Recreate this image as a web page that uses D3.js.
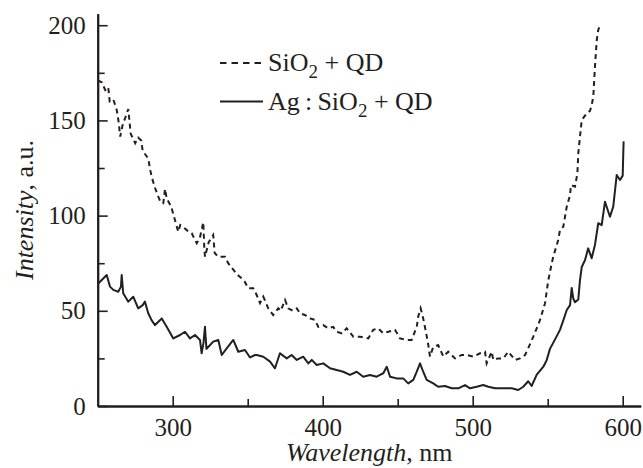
<!DOCTYPE html>
<html>
<head>
<meta charset="utf-8">
<script src="https://cdn.jsdelivr.net/npm/d3@7"></script>
<style>
  body { margin: 0; background: #fff; }
  text { font-family: "Liberation Serif", "Times New Roman", serif; fill: #231f20; }
</style>
</head>
<body>
<div id="vis"></div>
<script>
// SiO2 + QD (dashed)
var sio2Wl = [250,252.7,255,257,258,260.4,262.7,264,265,267,268,270.4,271,272,275,277,279,280,283.7,285,286,288,290.4,292,293.7,294.9,296,299,301.5,303.7,305,307,310,312.7,316,318,320.4,321,321.5,324,327,328,330.4,334.9,337,340,343,346,348,350.4,353.7,356,358.2,360.4,363.7,367,370.4,372,374.9,377,380,382.7,384.9,388.2,391.5,394.9,397,400.4,403.7,407,409.3,412.7,416,420.4,424.9,430.4,433.7,437,440.4,443.7,448.2,451.5,456,459.3,462.7,463.7,465.3,467,469,470.4,471.5,473.7,477,480.4,483.7,488.2,492.7,496,500.4,504.9,508.2,509.3,512.7,513.7,517,520.4,523.7,528.2,531.5,534.9,537,540.4,544.9,548.2,550.4,552.7,553.7,557,558.2,560.4,562.7,564.9,565.5,568.2,569.8,570.4,571.5,572.7,576,578.2,579.3,580.4,581.5,582.7,583.7,584.9];
var sio2Val = [171,170,166,167.5,160,161,155.5,149,141.5,149,150.5,156,151,143,138,141,139.5,134,130,124,120.4,115,110,107,106.5,114,109,104.7,97.7,91.5,95,94,92,90.7,85.5,88,96.5,84,78.4,86,89.8,80.3,78.4,78.4,75,72,69,67,65.3,61.8,61.8,58.3,54,57.4,51.3,47.8,51.3,50,55.7,51.3,50,51.3,48.7,47.8,46,45.2,41.6,42.5,40.8,41.6,39,38.2,40.8,36.4,36.4,35.5,40,40.8,38.2,39,40,35.5,34.7,34.7,41.6,47,51.3,46,38.2,32,26,31,32,26,28.5,25,26.8,26.8,25.9,27.7,28.5,22.4,28.5,24.2,25,25,28.5,24.2,25,26.8,30.3,36.4,45.2,54,66,75,78.4,87.2,92.4,94.2,104.7,110.8,116,115.2,122.2,132.7,141.4,150.2,153.7,155,158,162.5,178.2,192.2,197.5,200];

// Ag:SiO2 + QD (solid)
var agWl = [250,252.7,256,258.2,260.4,263.7,265.5,266,267,270.4,273.7,277,280,281.5,283.7,286,288.2,292.7,296,300.4,304.9,308.2,311.5,314.9,318.2,319.3,320.5,321.5,322.5,323.7,327,330.4,332.7,336,340.4,343.7,348.2,351.5,354.9,356,360.4,364.9,368.2,371.5,376,379.3,382.7,387,390.4,392.7,396,400.4,404.9,409.3,413.7,418.2,422.7,427,431.5,436,438.2,440.4,442.7,444.9,449.3,453.7,457,460.4,462.7,464.9,467,469.3,473.7,477,481.5,486,490.4,494.9,498.2,502.7,507,510.4,514.9,520.4,526,530.4,533.7,537,539.3,542.7,547,549.3,551.5,554.9,558.2,560.4,562.7,564.9,566,567,568.2,570.4,571.5,572.7,574.9,577,579.3,581.5,583.7,586,588.2,590.4,591.5,593.7,596,598.2,600,600.6];
var agVal = [64,66.2,68.8,62.7,61,60,62.7,68.8,59.2,54.8,57.4,51.3,53,54.8,48.7,45,42.5,46,41.6,35.5,37.3,39,35.5,37.3,34.7,27.7,33,41.6,30,31,33.8,34.7,26.8,30.3,34.7,28.5,29.4,25.5,26.8,26.8,25.9,23.3,19.8,27.7,25,26.8,24.2,25.9,22.4,24.2,21.5,22.4,19.8,18.9,18,16.3,18,15.4,16.3,15.4,16.3,17.2,20.6,15.4,14.5,14.5,11.9,13.7,18,22.4,18,13.7,11.9,10.1,10.5,9.3,9.3,11,9.3,10.1,11,10.1,9.3,9.3,9.3,8.4,10.1,13,10.5,16.5,20.5,24,30,35,40,45,50.4,53,62,56.6,54.5,56,66,73,76.7,82.8,77.6,84.6,96,95,107.3,102,99.4,104.7,121.3,118.7,121,139];

var xMajor = [300, 400, 500, 600];
var xMinor = [350, 450, 550];
var yMajor = [0, 50, 100, 150, 200];
var yMinor = [25, 75, 125, 175];

var W = 643, H = 468;
var plotLeft = 97.7, plotRight = 640.7, plotBottom = 406, plotTop = 13.8;

var svg = d3.select("#vis").append("svg")
  .attr("width", W)
  .attr("height", H);

var x = d3.scaleLinear().domain([250, 612]).range([plotLeft, plotRight]);
var y = d3.scaleLinear().domain([0, 206]).range([plotBottom, plotTop]);

// curves
var line = d3.line().x(d => x(d[0])).y(d => y(d[1]));

svg.append("path")
  .datum(d3.zip(sio2Wl, sio2Val))
  .attr("d", line)
  .attr("fill", "none")
  .attr("stroke", "#231f20")
  .attr("stroke-width", 2)
  .attr("stroke-dasharray", "5,4");

svg.append("path")
  .datum(d3.zip(agWl, agVal))
  .attr("d", line)
  .attr("fill", "none")
  .attr("stroke", "#231f20")
  .attr("stroke-width", 2)
  .attr("stroke-linejoin", "round");

// axes (ticks point inward)
function styleAxis(g) {
  g.select(".domain").attr("stroke", "#231f20").attr("stroke-width", 2);
  g.selectAll(".tick line").attr("stroke", "#231f20").attr("stroke-width", 1.6);
  g.selectAll(".tick text")
    .style("font-family", '"Liberation Serif", serif')
    .style("font-size", "25px")
    .attr("fill", "#231f20");
}

svg.append("g")
  .attr("transform", "translate(0," + plotBottom + ")")
  .call(d3.axisBottom(x).tickValues(xMajor).tickSizeInner(-10).tickSizeOuter(0).tickPadding(12))
  .call(styleAxis);

svg.append("g")
  .attr("transform", "translate(0," + plotBottom + ")")
  .call(d3.axisBottom(x).tickValues(xMinor).tickSizeInner(-7).tickSizeOuter(0).tickFormat(""))
  .call(styleAxis);

svg.append("g")
  .attr("transform", "translate(" + plotLeft + ",0)")
  .call(d3.axisLeft(y).tickValues(yMajor).tickSizeInner(-10).tickSizeOuter(0).tickPadding(12))
  .call(styleAxis);

svg.append("g")
  .attr("transform", "translate(" + plotLeft + ",0)")
  .call(d3.axisLeft(y).tickValues(yMinor).tickSizeInner(-7).tickSizeOuter(0).tickFormat(""))
  .call(styleAxis);

// axis titles
var xt = svg.append("text")
  .attr("x", (plotLeft + plotRight) / 2)
  .attr("y", 461)
  .attr("text-anchor", "middle")
  .style("font-size", "26px");
xt.append("tspan").style("font-style", "italic").text("Wavelength");
xt.append("tspan").text(", nm");

var yt = svg.append("text")
  .attr("transform", "translate(33,210) rotate(-90)")
  .attr("text-anchor", "middle")
  .style("font-size", "26px");
yt.append("tspan").style("font-style", "italic").text("Intensity");
yt.append("tspan").text(", a.u.");

// legend
var legend = [
  {name: ["SiO", "2", " + QD"], dash: "6.5,5", ly: 63},
  {name: ["Ag\u2009:\u2009SiO", "2", " + QD"], dash: null, ly: 101.5}
];

var lg = svg.append("g").selectAll("g").data(legend).enter().append("g");

lg.append("line")
  .attr("x1", 220).attr("x2", 263)
  .attr("y1", d => d.ly).attr("y2", d => d.ly)
  .attr("stroke", "#231f20")
  .attr("stroke-width", 2.2)
  .attr("stroke-dasharray", d => d.dash);

var lt = lg.append("text")
  .attr("x", 268)
  .attr("y", d => d.ly + 8)
  .style("font-size", "26px");
lt.append("tspan").text(d => d.name[0]);
lt.append("tspan").attr("dy", 7).style("font-size", "19px").text(d => d.name[1]);
lt.append("tspan").attr("dy", -7).text(d => d.name[2]);
</script>
</body>
</html>
